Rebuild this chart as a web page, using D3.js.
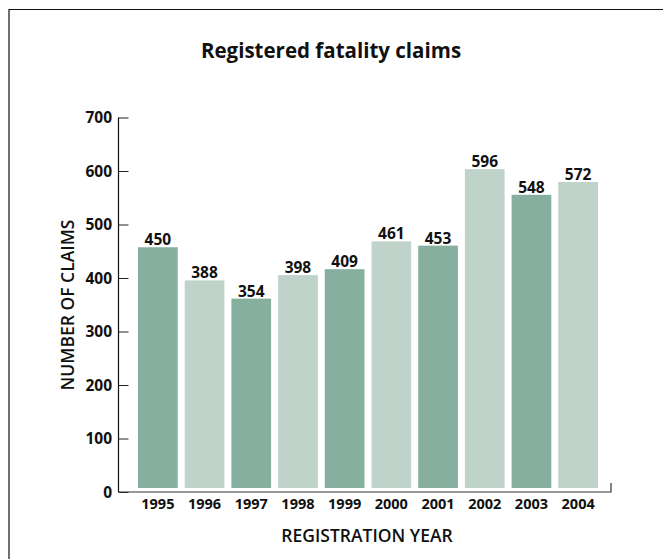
<!DOCTYPE html>
<html>
<head>
<meta charset="utf-8">
<script src="https://cdn.jsdelivr.net/npm/d3@7"></script>
<style>
  body { margin: 0; background: #fff; }
  text { font-family: "Open Sans", "DejaVu Sans", sans-serif; fill: #111; }
</style>
</head>
<body>
<div id="chart"></div>
<script>
var years = ['1995', '1996', '1997', '1998', '1999', '2000', '2001', '2002', '2003', '2004'];
var claims = [450, 388, 354, 398, 409, 461, 453, 596, 548, 572];
var yTicks = [0, 100, 200, 300, 400, 500, 600, 700];
var barColors = ['#86af9f', '#bfd3ca'];

var width = 663;
var height = 559;

var svg = d3.select('#chart').append('svg')
  .attr('width', width)
  .attr('height', height);

// frame (runs off the right and bottom edges)
svg.append('path')
  .attr('d', 'M9,' + (height + 5) + 'V9.5H' + (width + 5))
  .attr('fill', 'none')
  .attr('stroke', '#111')
  .attr('stroke-width', 1.2);

svg.append('text')
  .attr('x', 331)
  .attr('y', 58)
  .attr('text-anchor', 'middle')
  .style('font-size', '20.5px')
  .style('font-weight', 700)
  .text('Registered fatality claims');

var y = d3.scaleLinear().domain([0, 700]).range([492, 117.5]);
var x = d3.scaleBand().domain(years).range([131, 605]).paddingInner(0.15).paddingOuter(0.15);

var data = years.map(function(yr, i) { return { year: yr, value: claims[i], i: i }; });

// bars sit a little above the axis line
var lift = 4;
svg.append('g').selectAll('rect.bar').data(data)
  .enter().append('rect')
  .attr('class', 'bar')
  .attr('x', function(d) { return x(d.year); })
  .attr('y', function(d) { return y(d.value) - lift; })
  .attr('width', x.bandwidth())
  .attr('height', function(d) { return y(0) - y(d.value); })
  .attr('fill', function(d) { return barColors[d.i % 2]; });

svg.append('g').selectAll('text.val').data(data)
  .enter().append('text')
  .attr('class', 'val')
  .attr('x', function(d) { return x(d.year) + x.bandwidth() / 2; })
  .attr('y', function(d) { return y(d.value) - lift - 2; })
  .attr('text-anchor', 'middle')
  .style('font-size', '15.5px')
  .style('font-weight', 700)
  .text(function(d) { return d.value; });

// y axis
var yAxis = d3.axisRight(y).tickValues(yTicks).tickSize(10).tickFormat('');
var yg = svg.append('g').attr('transform', 'translate(118.5,0)').call(yAxis);
yg.select('.domain').remove();
yg.selectAll('.tick line').attr('stroke', '#222');
svg.append('line')
  .attr('x1', 118.5).attr('x2', 118.5)
  .attr('y1', y(700)).attr('y2', y(0))
  .attr('stroke', '#111').attr('stroke-width', 1.2);

svg.append('g').selectAll('text.ytick').data(yTicks)
  .enter().append('text')
  .attr('class', 'ytick')
  .attr('x', 112)
  .attr('y', function(d) { return y(d) + 5.5; })
  .attr('text-anchor', 'end')
  .style('font-size', '15.5px')
  .style('font-weight', 700)
  .text(function(d) { return d; });

// x axis
svg.append('path')
  .attr('d', 'M118.5,' + y(0) + 'H611V' + (y(0) - 9))
  .attr('fill', 'none')
  .attr('stroke', '#333')
  .attr('stroke-width', 1.2);

svg.append('g').selectAll('text.year').data(years)
  .enter().append('text')
  .attr('class', 'year')
  .attr('x', function(d) { return x(d) + x.bandwidth() / 2; })
  .attr('y', 509)
  .attr('text-anchor', 'middle')
  .style('font-size', '14.5px')
  .style('font-weight', 700)
  .text(function(d) { return d; });

svg.append('text')
  .attr('x', 367)
  .attr('y', 542)
  .attr('text-anchor', 'middle')
  .style('font-size', '17.5px')
  .style('font-weight', 600)
  .text('REGISTRATION YEAR');

svg.append('text')
  .attr('transform', 'translate(74,305) rotate(-90)')
  .attr('text-anchor', 'middle')
  .style('font-size', '17.5px')
  .style('font-weight', 600)
  .text('NUMBER OF CLAIMS');
</script>
</body>
</html>
